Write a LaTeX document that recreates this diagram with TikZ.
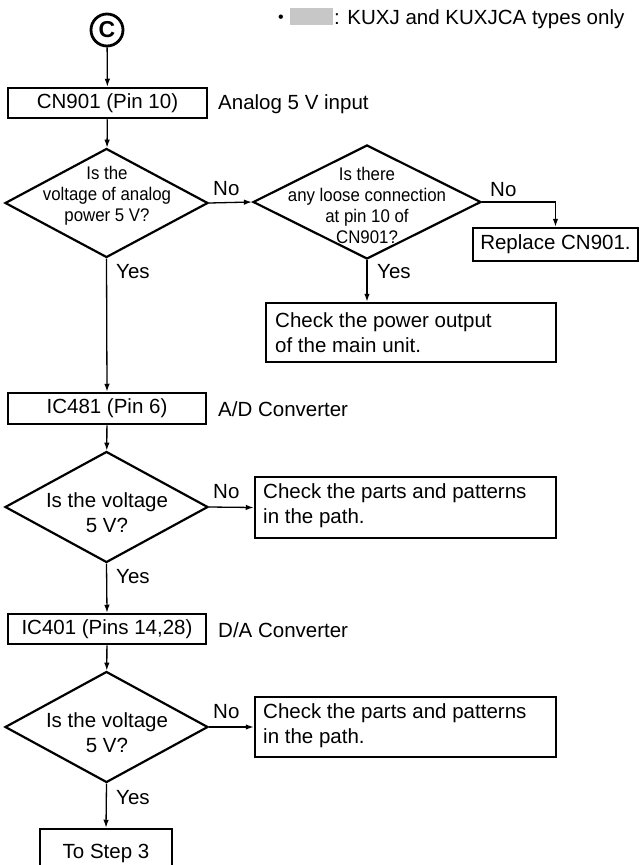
\documentclass[tikz,border=0pt]{standalone}
\usepackage{fontspec}
\setmainfont{Liberation Sans}
\newfontfamily\condfont[FakeStretch=0.92]{Liberation Sans}
\usetikzlibrary{shapes.geometric,arrows.meta}
\begin{document}
\begin{tikzpicture}[x=1pt,y=-1pt,
  every node/.style={inner sep=0pt, font=\fontsize{20.5}{25}\selectfont},
  box/.style={draw, line width=2.5pt, rectangle, align=center},
  dia/.style={draw, diamond, line width=2.2pt},
  dtxt/.style={align=center, font=\condfont\fontsize{18.3}{21}\selectfont},
  ntxt/.style={align=center, font=\fontsize{20.5}{25}\selectfont},
  lbl/.style={anchor=base west},
  arr/.style={-{Latex[length=8pt,width=5.5pt]}, line width=1.3pt},
  ln/.style={line width=1.3pt}]
\useasboundingbox (0,0) rectangle (640,865);

% legend
\node[anchor=base] (bul) at (281,22) {\fontsize{16}{16}\selectfont •};
\node[fill=black!22, minimum width=43pt, minimum height=17pt] (sw) at (311.5,16.5) {};
\node[lbl] (lgt) at (334,24) {: KUXJ and KUXJCA types only};

% start
\node[draw, circle, line width=2.8pt, minimum size=32pt, font=\bfseries\fontsize{23}{23}\selectfont] (c) at (107,30) {C};

\node[box, minimum width=199pt, minimum height=30pt] (cn) at (107.5,103) {CN901 (Pin 10)};
\node[lbl] (cnl) at (218,109) {Analog 5 V input};

\node[dia, minimum width=203pt, minimum height=109pt] (d1) at (106.5,203) {};
\node[dtxt] (d1t) at (107,196) {Is the\\voltage of analog\\power 5 V?};

\node[dia, minimum width=228pt, minimum height=114pt] (d2) at (367,202) {};
\node[dtxt] (d2t) at (367,205) {Is there\\any loose connection\\at pin 10 of\\CN901?};

\node[box, minimum width=165pt, minimum height=33pt] (rep) at (555.5,244.5) {Replace CN901.};

\node[box, minimum width=290pt, minimum height=59pt] (chk1) at (411,332.5) {};
\node[anchor=west, align=left] (chk1t) at (275,333) {Check the power output\\of the main unit.};

\node[box, minimum width=198pt, minimum height=31pt] (ic481) at (107,408.5) {IC481 (Pin 6)};
\node[lbl] (ic481l) at (218,416) {A/D Converter};

\node[dia, minimum width=203pt, minimum height=111pt] (d3) at (106.5,507) {};
\node[ntxt] (d3t) at (107,513) {Is the voltage\\5 V?};

\node[box, minimum width=301pt, minimum height=61pt] (chk2) at (405.5,507.5) {};
\node[anchor=west, align=left] (chk2t) at (263,506) {Check the parts and patterns\\in the path.};

\node[box, minimum width=198pt, minimum height=30pt] (ic401) at (107,629) {IC401 (Pins 14,28)};
\node[lbl] (ic401l) at (218,637) {D/A Converter};

\node[dia, minimum width=203pt, minimum height=111pt] (d4) at (106.5,727) {};
\node[ntxt] (d4t) at (107,733) {Is the voltage\\5 V?};

\node[box, minimum width=301pt, minimum height=60pt] (chk3) at (405.5,727) {};
\node[anchor=west, align=left] (chk3t) at (263,726) {Check the parts and patterns\\in the path.};

\node[box, minimum width=132pt, minimum height=48pt] (st) at (106,853) {To Step 3};

% connectors
\draw[arr] (c) -- (cn);
\draw[arr] (cn) -- (d1);
\draw[arr] (d1.east) -- (d2.west);
\node[lbl] (no1) at (213,195) {No};
\draw[arr] (d2.east) -| (rep.north);
\node[lbl] (no2) at (490,196) {No};
\draw[arr] (d2.south) -- (d2.south |- chk1.north);
\node[lbl] (yes2) at (377,278) {Yes};
\draw[arr] (d1.south) -- (ic481.north);
\node[lbl] (yes1) at (116,278) {Yes};
\draw[arr] (ic481) -- (d3);
\draw[arr] (d3.east) -- (chk2.west);
\node[lbl] (no3) at (213,498) {No};
\draw[arr] (d3.south) -- (ic401.north);
\node[lbl] (yes3) at (116,583) {Yes};
\draw[arr] (ic401) -- (d4);
\draw[arr] (d4.east) -- (chk3.west);
\node[lbl] (no4) at (213,718) {No};
\draw[arr] (d4.south) -- (st.north);
\node[lbl] (yes4) at (116,804) {Yes};
\end{tikzpicture}
\end{document}
